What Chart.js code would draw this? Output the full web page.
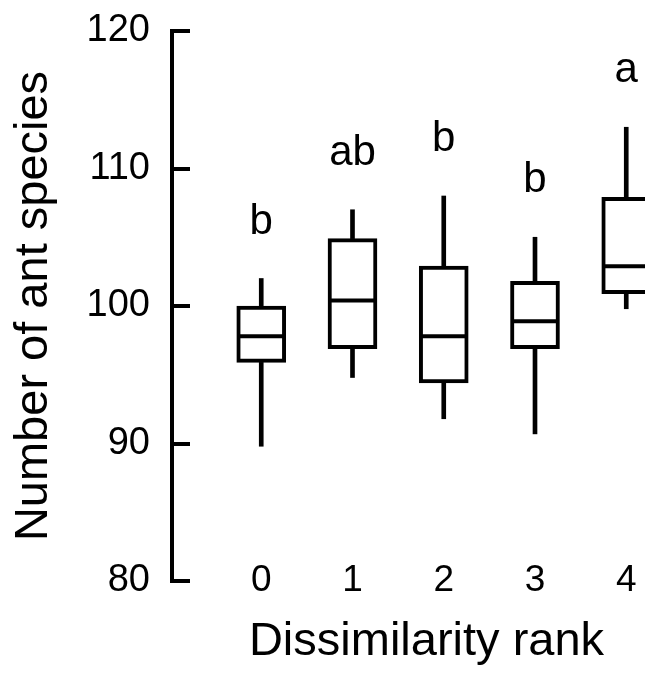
<!DOCTYPE html>
<html>
<head>
<meta charset="utf-8">
<script src="https://cdn.jsdelivr.net/npm/chart.js@4.4.1/dist/chart.umd.min.js"></script>
<style>
  html, body { margin: 0; background: #fff; overflow: hidden; }
  canvas { display: block; }
</style>
</head>
<body>
<canvas id="chart" width="681" height="682"></canvas>
<script>
// data
const categories = [0, 1, 2, 3, 4];
const xLabels = ['0', '1', '2', '3', '4'];
const whiskerLow = [89.8, 94.8, 91.8, 90.7, 99.8];
const q1 = [95.9, 96.9, 94.4, 96.9, 100.9];
const median = [97.8, 100.4, 97.8, 98.9, 102.9];
const q3 = [100, 104.9, 102.9, 101.8, 107.9];
const whiskerHigh = [102, 107, 108, 105, 113];
const letters = ['b', 'ab', 'b', 'b', 'a'];
const yTicks = [80, 90, 100, 110, 120];

const FONT = '"Liberation Sans", Arial, sans-serif';

// letters above each box
const letterPlugin = {
    id: 'letters',
    afterDatasetsDraw(chart) {
        const ctx = chart.ctx;
        const x = chart.scales.x;
        const y = chart.scales.y;
        ctx.save();
        ctx.fillStyle = '#000';
        ctx.font = '42px ' + FONT;
        ctx.textAlign = 'center';
        ctx.textBaseline = 'alphabetic';
        categories.forEach((c, i) => {
            ctx.fillText(letters[i], x.getPixelForValue(c), y.getPixelForValue(whiskerHigh[i]) - 45);
        });
        ctx.restore();
    }
};

const chart = document.querySelector('#chart').getContext('2d');

new Chart(chart, {
    type: 'bar',
    data: {
        datasets: [
            {
                type: 'scatter',
                data: categories.map((c, i) => ({x: c, y: median[i]})),
                pointStyle: 'line',
                pointRadius: 24,
                borderColor: '#000',
                borderWidth: 4
            },
            {
                data: categories.map((c, i) => ({x: c, y: [q1[i], q3[i]]})),
                backgroundColor: '#fff',
                borderColor: '#000',
                borderWidth: 4,
                borderSkipped: false,
                barThickness: 49,
                grouped: false
            },
            {
                data: categories.map((c, i) => ({x: c, y: [q3[i], whiskerHigh[i]]})),
                backgroundColor: '#000',
                borderWidth: 0,
                barThickness: 4,
                grouped: false
            },
            {
                data: categories.map((c, i) => ({x: c, y: [whiskerLow[i], q1[i]]})),
                backgroundColor: '#000',
                borderWidth: 0,
                barThickness: 4,
                grouped: false
            }
        ]
    },
    options: {
        responsive: false,
        animation: false,
        events: [],
        layout: { autoPadding: false, padding: { left: 0, top: 31, right: 0, bottom: 0 } },
        plugins: { legend: { display: false }, tooltip: { enabled: false } },
        scales: {
            x: {
                type: 'linear',
                min: -0.978,
                max: 4.6,
                offset: false,
                grid: { display: false, drawTicks: false },
                border: { display: false },
                afterBuildTicks: (scale) => { scale.ticks = categories.map(v => ({value: v})); },
                afterFit: (scale) => { scale.height = 101; },
                ticks: {
                    autoSkip: false,
                    maxRotation: 0,
                    mirror: true,
                    padding: -22,
                    color: '#000',
                    font: { family: FONT, size: 37 },
                    callback: (v) => xLabels[categories.indexOf(v)]
                },
                title: {
                    display: true,
                    text: 'Dissimilarity rank',
                    color: '#000',
                    font: { family: FONT, size: 47 },
                    padding: { top: 0, bottom: 12 }
                }
            },
            y: {
                min: 80,
                max: 120,
                beginAtZero: false,
                afterBuildTicks: (scale) => { scale.ticks = yTicks.map(v => ({value: v})); },
                afterFit: (scale) => {
                    scale.width = 172;
                    scale.paddingTop = 0;
                    scale.paddingBottom = 0;
                },
                grid: {
                    display: true,
                    drawOnChartArea: false,
                    drawTicks: true,
                    tickLength: -18,
                    lineWidth: 4,
                    color: '#000'
                },
                border: { display: true, color: '#000', width: 4 },
                ticks: {
                    padding: 40,
                    color: '#000',
                    font: { family: FONT, size: 38 }
                },
                title: {
                    display: true,
                    text: 'Number of ant species',
                    color: '#000',
                    font: { family: FONT, size: 47 },
                    padding: { top: 6, bottom: 0 }
                }
            }
        }
    },
    plugins: [letterPlugin]
});
</script>
</body>
</html>
